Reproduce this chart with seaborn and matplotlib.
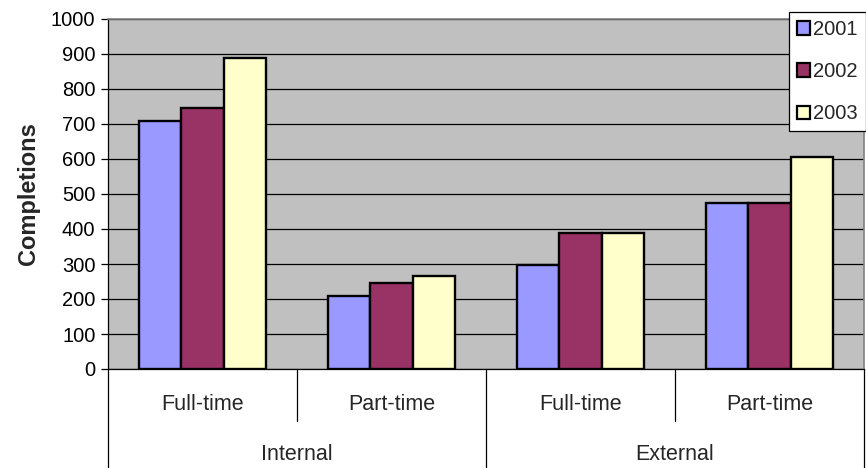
import matplotlib
matplotlib.use("Agg")
import matplotlib.pyplot as plt
import matplotlib.transforms as mtransforms
import seaborn as sns
import pandas as pd

modes = ["Internal", "Internal", "External", "External"]
attendance = ["Full-time", "Part-time", "Full-time", "Part-time"]
years = ["2001", "2002", "2003"]
values_2001 = [708, 210, 296, 473]
values_2002 = [746, 246, 390, 475]
values_2003 = [888, 267, 390, 606]
colors = ["#9999FF", "#993366", "#FFFFCC"]
yticks = [0, 100, 200, 300, 400, 500, 600, 700, 800, 900, 1000]

groups = [f"{m}|{a}" for m, a in zip(modes, attendance)]
rows = []
for yr, vals in zip(years, [values_2001, values_2002, values_2003]):
    for g, v in zip(groups, vals):
        rows.append({"group": g, "year": yr, "value": v})
df = pd.DataFrame(rows)

sns.set_theme(style="white")
plt.rcParams["font.family"] = ["Liberation Sans", "DejaVu Sans"]

fig = plt.figure(figsize=(8.66, 4.68), dpi=100)
ax = fig.add_axes([108/866, 1-369/468, (864-108)/866, (369-19)/468])
ax.set_facecolor("#C0C0C0")

sns.barplot(data=df, x="group", y="value", hue="year", order=groups,
            hue_order=years, palette=colors, width=0.675, saturation=1,
            edgecolor="black", linewidth=1.7, ax=ax, zorder=3)

ax.set_ylim(0, 1000)
ax.set_xlim(-0.5, len(groups) - 0.5)
ax.set_yticks(yticks)
ax.set_yticklabels([str(t) for t in yticks], fontsize=14.5, color="black")
ax.yaxis.grid(True, color="black", linewidth=0.9, zorder=0)
ax.set_axisbelow(True)
ax.tick_params(axis="y", direction="out", length=5, width=0.9, color="black", left=True, pad=4)
ax.set_xticks([])
ax.set_xlabel("")
ax.set_ylabel("Completions", fontsize=17, fontweight="bold", labelpad=8)

for side in ["top", "right"]:
    ax.spines[side].set_color("#808080")
    ax.spines[side].set_linewidth(1.2)
ax.spines["left"].set_color("black")
ax.spines["left"].set_linewidth(0.9)
ax.spines["bottom"].set_color("black")
ax.spines["bottom"].set_linewidth(0.9)

# hierarchical category labels
trans = mtransforms.blended_transform_factory(ax.transData, fig.transFigure)
y_sub = 1 - 404/468
y_top = 1 - 455/468
y_mid = 1 - 421/468
for i, a in enumerate(attendance):
    ax.text(i, y_sub, a, transform=trans, ha="center", va="center", fontsize=15.5, clip_on=False)
unique_modes = []
for m in modes:
    if m not in unique_modes:
        unique_modes.append(m)
for m in unique_modes:
    idx = [i for i, mm in enumerate(modes) if mm == m]
    ax.text((idx[0] + idx[-1]) / 2, y_top, m, transform=trans, ha="center", va="center", fontsize=15.5, clip_on=False)

y_axis_bottom = 1 - 369/468
for b in range(len(groups) + 1):
    xb = b - 0.5
    if b == 0 or b == len(groups) or modes[b - 1] != modes[b]:
        y_end = 0.0
    else:
        y_end = y_mid
    ax.plot([xb, xb], [y_axis_bottom, y_end], transform=trans, color="black",
            linewidth=0.9, clip_on=False)

leg = ax.legend(loc="upper right", bbox_to_anchor=(866/866, 1-12/468),
                bbox_transform=fig.transFigure, fontsize=14.5, frameon=True,
                fancybox=False, edgecolor="black", framealpha=1, facecolor="white",
                handlelength=0.65, handleheight=0.65, handletextpad=0.15,
                labelspacing=1.15, borderpad=0.4, borderaxespad=0, title=None)
leg.get_frame().set_linewidth(0.9)
for h in leg.legend_handles:
    h.set_edgecolor("black")
    h.set_linewidth(1.6)

fig.savefig("out.png", dpi=100)
